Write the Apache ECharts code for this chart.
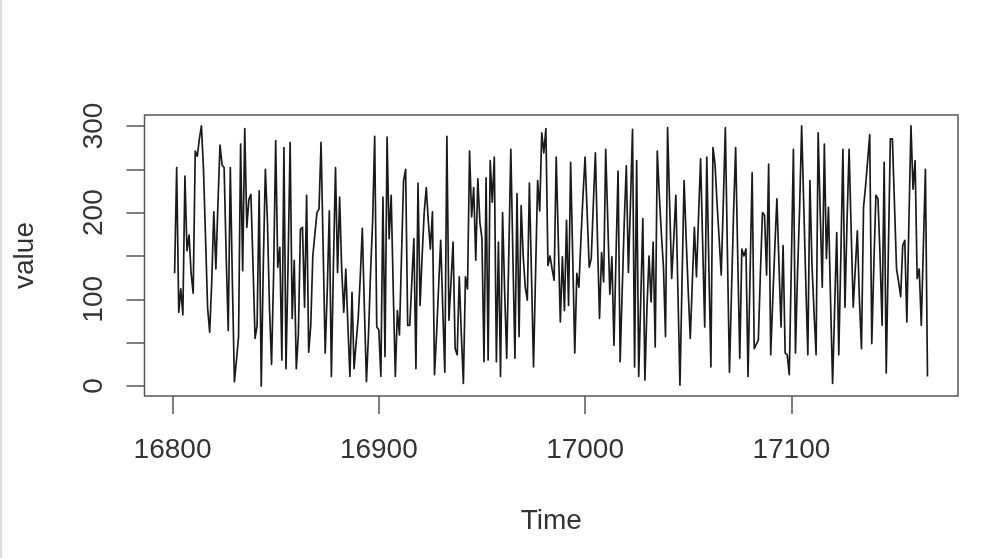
<!DOCTYPE html>
<html><head><meta charset="utf-8">
<style>html,body{margin:0;padding:0;background:#fff}#c{width:996px;height:558px}</style>
<script src="https://cdn.jsdelivr.net/npm/echarts@6/dist/echarts.min.js"></script>
</head><body><div id="c"></div>
<script>
const firstDay = 16801;
const values = [
130,252,85,112,82,242,156,174,130,107,271,265,285,300,250,170,90,62,120,201,
135,210,278,255,252,150,64,252,120,5,30,57,279,133,297,183,215,221,140,55,
70,225,0,140,250,190,90,25,130,283,137,160,30,275,20,140,281,78,145,20,
60,181,183,91,220,39,70,150,175,200,204,281,160,38,110,202,11,140,252,131,
218,135,85,135,70,11,108,20,50,78,125,182,90,5,60,131,190,288,68,65,
11,218,34,287,170,220,110,11,87,59,150,237,250,70,70,120,170,20,234,93,
150,200,229,190,158,201,13,60,115,168,90,16,288,76,120,166,43,36,126,60,
3,126,112,271,195,229,145,239,189,170,28,240,30,260,212,264,28,166,11,200,
110,32,150,273,150,32,222,57,208,150,114,99,234,130,22,130,237,202,292,269,
297,139,150,135,122,264,170,74,149,87,191,93,258,150,38,130,114,170,220,264,
200,137,147,210,269,170,78,154,120,273,190,106,149,47,150,248,28,110,190,254,
131,210,296,22,260,11,100,193,7,90,150,97,166,45,271,220,175,137,57,298,
210,124,170,220,110,1,120,237,170,110,55,120,183,126,195,262,165,68,264,140,
22,275,256,210,170,128,210,298,155,16,110,200,275,150,32,158,150,158,11,130,
246,43,48,53,130,200,197,128,256,36,100,160,216,140,68,162,38,36,13,140,
273,38,130,204,300,210,120,36,237,140,85,36,292,200,114,279,147,206,100,3,
90,177,36,150,273,91,190,273,180,91,135,179,100,43,206,231,260,290,49,140,
220,216,150,70,258,15,150,285,285,210,135,120,103,162,168,74,190,300,227,260,
124,135,70,160,250,11
];
const xTicks = [16800,16900,17000,17100];
const yTicks = [0,50,100,150,200,250,300];
const yLabels = [0,100,200,300];
const xName = 'Time';
const yName = 'value';

const fontFamily = '"Liberation Sans", Arial, sans-serif';
const textColor = '#333';
const frame = '#555';
const chart = echarts.init(document.getElementById('c'), null, {renderer:'canvas'});
chart.setOption({
  animation:false,
  backgroundColor:'#fff',
  graphic:[{type:'rect',left:0,top:0,shape:{width:2,height:558},style:{fill:'#ddd'}}],
  grid:{left:144.5,right:38,top:115,bottom:162,show:true,borderColor:frame,borderWidth:1.5,backgroundColor:'transparent'},
  xAxis:{
    type:'value',min:16786.4,max:17180.8,
    name:xName,nameLocation:'middle',nameGap:111,
    nameTextStyle:{fontFamily,fontSize:28,color:textColor},
    axisLine:{show:false,onZero:false},
    axisTick:{show:true,length:18,customValues:xTicks,lineStyle:{color:frame,width:1.5}},
    axisLabel:{show:true,margin:40,customValues:xTicks,fontFamily,fontSize:28,color:textColor,formatter:v=>String(v)},
    splitLine:{show:false}
  },
  yAxis:{
    type:'value',min:-11.5,max:312.6,
    name:yName,nameLocation:'middle',nameGap:105,nameRotate:90,
    nameTextStyle:{fontFamily,fontSize:28,color:textColor},
    axisLine:{show:false,onZero:false},
    axisTick:{show:true,length:18,customValues:yTicks,lineStyle:{color:frame,width:1.5}},
    axisLabel:{show:true,margin:36,rotate:90,customValues:yLabels,fontFamily,fontSize:28,color:textColor,formatter:v=>String(v)},
    splitLine:{show:false}
  },
  series:[{
    type:'line',showSymbol:false,symbol:'none',
    data:values.map((v,i)=>[firstDay+i,v]),
    lineStyle:{color:'#1a1a1a',width:1.7,join:'round'}
  }]
});
</script></body></html>
